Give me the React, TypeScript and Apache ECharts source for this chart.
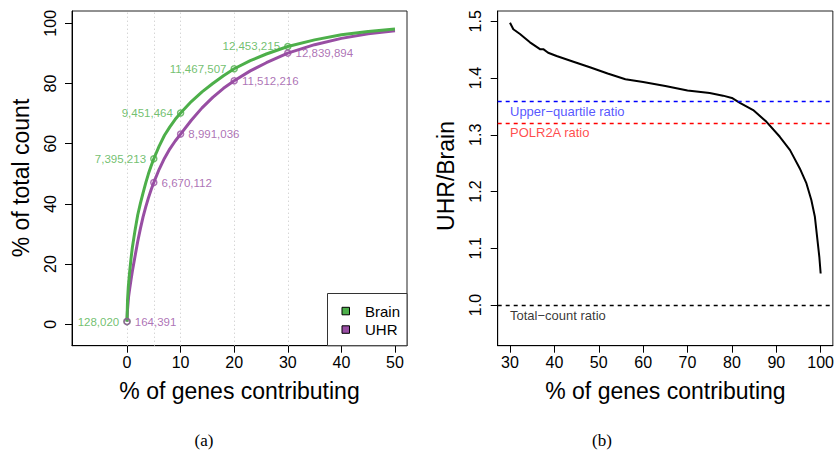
import React, { useEffect, useRef } from 'react';
import * as echarts from 'echarts';

const FONT = '"Liberation Sans", Arial, Helvetica, sans-serif';
const SERIF = '"Liberation Serif", "Times New Roman", serif';
const GREEN = '#4DAF4A';
const PURPLE = '#984EA3';

// Panel (a): cumulative % of total count vs % of genes contributing
const brainPct = [0, 0.1, 0.25, 0.5, 0.75, 1, 1.5, 2, 2.5, 3, 3.5, 4, 4.5, 5, 6, 7, 8, 9, 10, 12, 14, 16, 18, 20, 23, 26, 30, 35, 40, 45, 50];
const brainCum = [0.9, 8, 12.5, 17.5, 21.8, 25.5, 31.2, 36.3, 40.2, 43.7, 47, 50, 52.6, 55, 59.2, 62.8, 65.6, 68.1, 70.2, 74, 77.2, 80, 82.6, 84.9, 87.6, 89.8, 92.3, 94.5, 96.2, 97.3, 98.1];
const uhrPct = [0, 0.1, 0.3, 0.5, 0.75, 1, 1.5, 2, 2.5, 3, 3.5, 4, 4.5, 5, 6, 7, 8, 9, 10, 12, 14, 16, 18, 20, 23, 26, 30, 35, 40, 45, 50];
const uhrCum = [0.9, 5, 9.2, 11.8, 14.8, 17.6, 22.6, 27.5, 31.8, 35.7, 39, 42, 44.7, 47.1, 51.5, 55.2, 58.3, 60.9, 63.2, 67.8, 71.9, 75.4, 78.4, 80.9, 84.2, 86.9, 90.1, 92.9, 95, 96.5, 97.5];

const markPct = [0, 5, 10, 20, 30];
const brainMarkVal = [0.9, 55, 70.2, 84.9, 92.3];
const uhrMarkVal = [0.9, 47.1, 63.2, 80.9, 90.1];
const brainLabels = ['128,020', '7,395,213', '9,451,464', '11,467,507', '12,453,215'];
const uhrLabels = ['164,391', '6,670,112', '8,991,036', '11,512,216', '12,839,894'];

const xTicksA = [0, 10, 20, 30, 40, 50];
const yTicksA = [0, 20, 40, 60, 80, 100];

// Panel (b): UHR/Brain ratio
const ratioPct = [30, 30.75, 32.25, 33.4, 34.5, 36.0, 36.75, 37.5, 38.6, 40.5, 44.3, 48.0, 52, 56, 60, 65, 70, 75, 78, 80, 81.8, 84.8, 87.8, 90.8, 93.1, 95.3, 96.8, 97.9, 98.7, 99.2, 99.7, 100];
const ratioVal = [1.4975, 1.486, 1.4776, 1.47, 1.463, 1.455, 1.451, 1.451, 1.4446, 1.4388, 1.4288, 1.419, 1.408, 1.398, 1.393, 1.386, 1.378, 1.3735, 1.369, 1.365, 1.3564, 1.3436, 1.3229, 1.2965, 1.273, 1.2407, 1.2143, 1.185, 1.1555, 1.12, 1.085, 1.0556];

const refNames = ['Upper\u2212quartile ratio', 'POLR2A ratio', 'Total\u2212count ratio'];
const refValues = [1.359, 1.322, 1.0];
const refLineColors = ['#0000ff', '#ff0000', '#000000'];
const refTextColors = ['#2a2aff', '#ff1a1a', '#000000'];

const xTicksB = [30, 40, 50, 60, 70, 80, 90, 100];
const yTicksB = [1.0, 1.1, 1.2, 1.3, 1.4, 1.5];

const zip = (a: number[], b: number[]) => a.map((v, i) => [v, b[i]]);

function axisCommon(ticks: number[], rotate: number, margin: number, fmt?: (v: number) => string) {
  return {
    type: 'value' as const,
    splitLine: { show: false },
    axisLine: { show: true, onZero: false, lineStyle: { color: '#000', width: 1 } },
    axisTick: { show: true, inside: false, length: 7, customValues: ticks, lineStyle: { color: '#000', width: 1 } },
    axisLabel: {
      show: true,
      customValues: ticks,
      rotate,
      margin,
      fontSize: 16,
      color: '#000',
      fontFamily: FONT,
      formatter: fmt ? (v: number) => fmt(v) : undefined,
    },
  };
}

export default function App() {
  const ref = useRef<HTMLDivElement>(null);
  useEffect(() => {
    const chart = echarts.init(ref.current!, null, { renderer: 'svg' });
    const refSeries = refValues.map((v, i) => ({
      type: 'scatter', xAxisIndex: 1, yAxisIndex: 1, z: 4, silent: true,
      symbolSize: 0, itemStyle: { color: 'rgba(0,0,0,0)' },
      data: [[30, v]],
      label: {
        show: true, position: 'right', distance: 0, offset: [0, 10.5],
        fontSize: 13, fontFamily: FONT, color: refTextColors[i],
        formatter: () => refNames[i],
      },
      markLine: {
        silent: true, symbol: ['none', 'none'], label: { show: false },
        lineStyle: { color: refLineColors[i], type: [4, 4], width: 1.3, opacity: 1 },
        emphasis: { disabled: true },
        data: [{ yAxis: v, lineStyle: { color: refLineColors[i] } }],
      },
    }));
    const option: any = {
      animation: false,
      backgroundColor: '#ffffff',
      textStyle: { fontFamily: FONT },
      grid: [
        { left: 72, top: 11, width: 335, height: 334.7, show: true, borderColor: '#222', borderWidth: 1, backgroundColor: 'transparent', containLabel: false },
        { left: 497.7, top: 11, width: 335.3, height: 334.7, show: true, borderColor: '#222', borderWidth: 1, backgroundColor: 'transparent', containLabel: false },
      ],
      xAxis: [
        { gridIndex: 0, min: -10.26, max: 52.24, ...axisCommon(xTicksA, 0, 9) },
        { gridIndex: 1, min: 27.23, max: 102.75, ...axisCommon(xTicksB, 0, 9) },
      ],
      yAxis: [
        { gridIndex: 0, min: -7.11, max: 104.09, ...axisCommon(yTicksA, 90, 14) },
        { gridIndex: 1, min: 0.9283, max: 1.5182, ...axisCommon(yTicksB, 90, 14, (v) => v.toFixed(1)) },
      ],
      series: [
        {
          type: 'line', xAxisIndex: 0, yAxisIndex: 0, z: 3,
          data: zip(uhrPct, uhrCum), showSymbol: false, smooth: false,
          lineStyle: { color: PURPLE, width: 3, join: 'round' }, itemStyle: { color: PURPLE }, silent: true,
        },
        {
          type: 'line', xAxisIndex: 0, yAxisIndex: 0, z: 3,
          data: zip(brainPct, brainCum), showSymbol: false, smooth: false,
          lineStyle: { color: GREEN, width: 3, join: 'round' }, itemStyle: { color: GREEN }, silent: true,
        },
        {
          type: 'scatter', xAxisIndex: 0, yAxisIndex: 0, z: 4, silent: true,
          data: zip(markPct, brainMarkVal), symbol: 'circle', symbolSize: 6,
          itemStyle: { color: 'rgba(0,0,0,0)', borderColor: GREEN, borderWidth: 1.5 },
          label: { show: true, position: 'left', distance: 4, color: GREEN, fontSize: 11.5, fontFamily: FONT, formatter: (p: any) => brainLabels[p.dataIndex] },
          markLine: {
            silent: true, symbol: ['none', 'none'], label: { show: false }, z: 1,
            lineStyle: { color: '#c4c4c4', type: [1, 3], width: 1 },
            data: markPct.map((v) => ({ xAxis: v })),
          },
        },
        {
          type: 'scatter', xAxisIndex: 0, yAxisIndex: 0, z: 4, silent: true,
          data: zip(markPct, uhrMarkVal), symbol: 'circle', symbolSize: 6,
          itemStyle: { color: 'rgba(0,0,0,0)', borderColor: PURPLE, borderWidth: 1.5 },
          label: { show: true, position: 'right', distance: 4, color: PURPLE, fontSize: 11.5, fontFamily: FONT, formatter: (p: any) => uhrLabels[p.dataIndex] },
        },
        {
          type: 'line', xAxisIndex: 1, yAxisIndex: 1, z: 3, silent: true,
          data: zip(ratioPct, ratioVal), showSymbol: false, smooth: false,
          lineStyle: { color: '#000', width: 2, join: 'round' }, itemStyle: { color: '#000' },
        },
        ...refSeries,
      ],
      graphic: [
        { type: 'text', x: 21, y: 178, rotation: Math.PI / 2, style: { text: '% of total count', fontSize: 23, fontFamily: FONT, fill: '#000', align: 'center', verticalAlign: 'middle' } },
        { type: 'text', x: 239.5, y: 391, style: { text: '% of genes contributing', fontSize: 23, fontFamily: FONT, fill: '#000', align: 'center', verticalAlign: 'middle' } },
        { type: 'text', x: 446, y: 176, rotation: Math.PI / 2, style: { text: 'UHR/Brain', fontSize: 23, fontFamily: FONT, fill: '#000', align: 'center', verticalAlign: 'middle' } },
        { type: 'text', x: 665.4, y: 391, style: { text: '% of genes contributing', fontSize: 23, fontFamily: FONT, fill: '#000', align: 'center', verticalAlign: 'middle' } },
        { type: 'text', x: 204, y: 440, style: { text: '(a)', fontSize: 17, fontFamily: SERIF, fill: '#000', align: 'center', verticalAlign: 'middle' } },
        { type: 'text', x: 602, y: 440, style: { text: '(b)', fontSize: 17, fontFamily: SERIF, fill: '#000', align: 'center', verticalAlign: 'middle' } },
        // legend
        { type: 'rect', shape: { x: 327.5, y: 293.5, width: 79.5, height: 52.2 }, style: { fill: '#fff', stroke: '#333', lineWidth: 1 }, z: 50 },
        { type: 'rect', shape: { x: 342, y: 307.3, width: 7.5, height: 7.5 }, style: { fill: GREEN, stroke: '#000', lineWidth: 1 }, z: 51 },
        { type: 'rect', shape: { x: 342, y: 325.8, width: 7.5, height: 7.5 }, style: { fill: PURPLE, stroke: '#000', lineWidth: 1 }, z: 51 },
        { type: 'text', x: 365, y: 311, z: 51, style: { text: 'Brain', fontSize: 15, fontFamily: FONT, fill: '#000', align: 'left', verticalAlign: 'middle' } },
        { type: 'text', x: 365, y: 329.5, z: 51, style: { text: 'UHR', fontSize: 15, fontFamily: FONT, fill: '#000', align: 'left', verticalAlign: 'middle' } },
      ],
    };
    chart.setOption(option);
    return () => chart.dispose();
  }, []);
  return <div ref={ref} style={{ position: 'absolute', left: 0, top: 0, width: 837, height: 453, background: '#fff' }} />;
}
